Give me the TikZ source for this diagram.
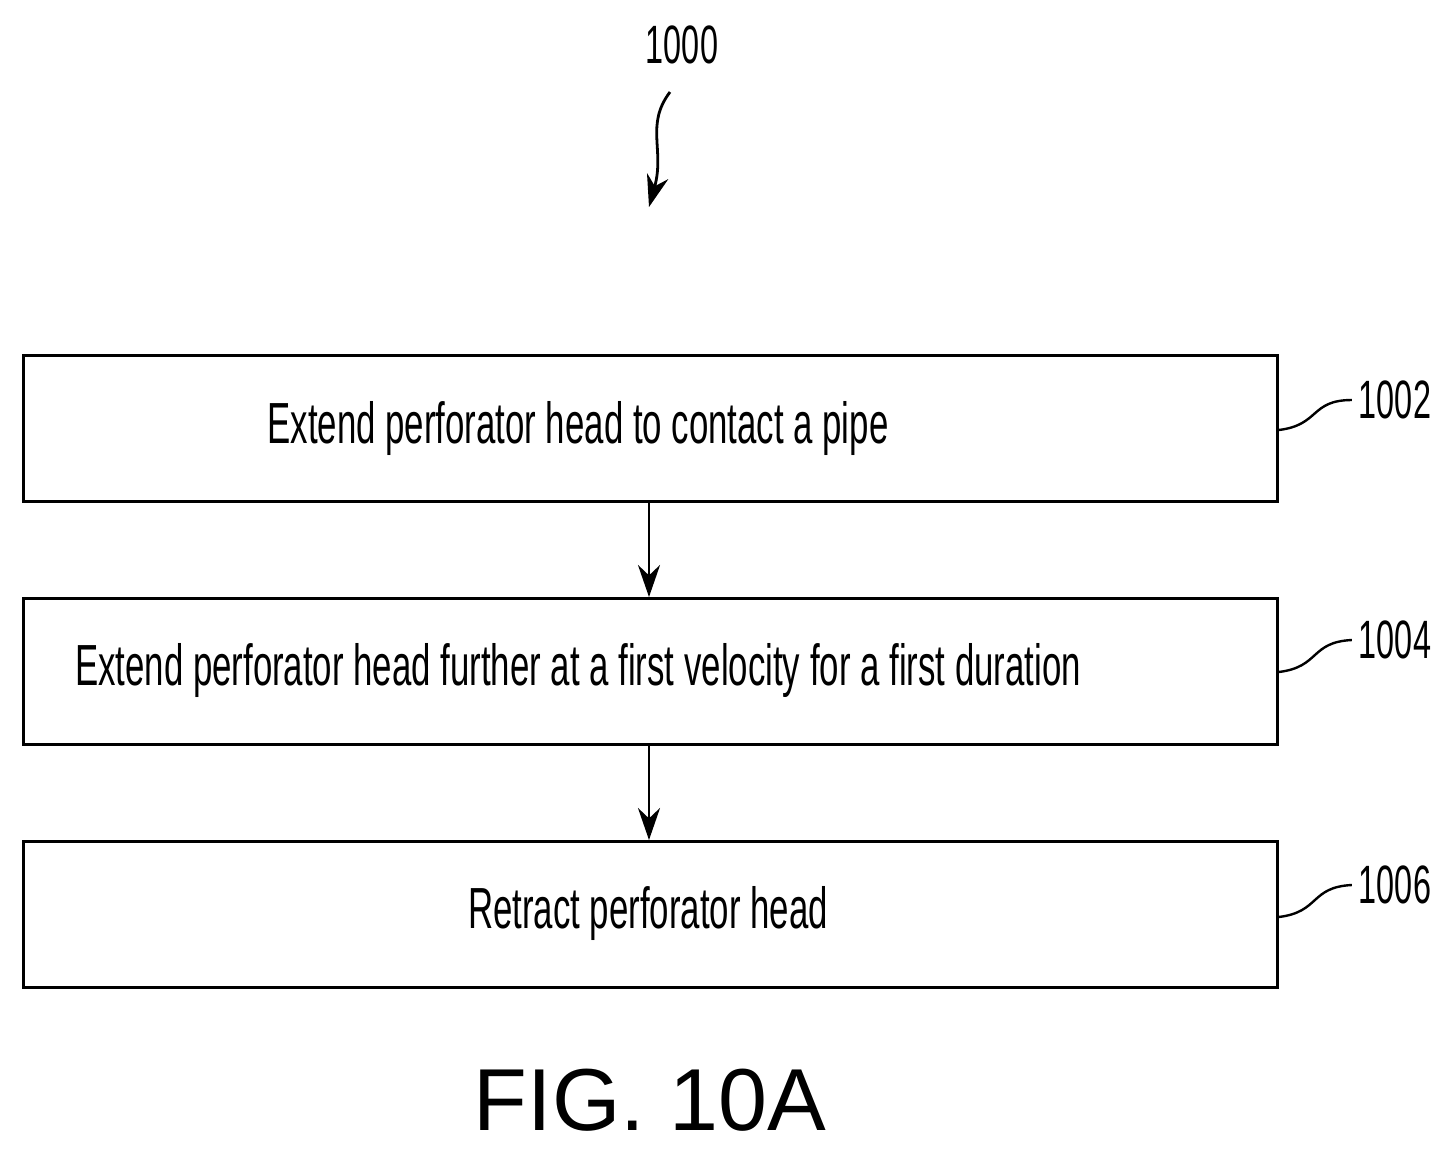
\documentclass[tikz,border=0pt]{standalone}
\usepackage{fontspec}
\setmainfont{Liberation Sans}
\usetikzlibrary{arrows.meta}
\newcommand{\narrowtext}[1]{\scalebox{0.6}[1]{#1}}
\begin{document}
\begin{tikzpicture}[x=0.5pt,y=-0.5pt,
	stepbox/.style={draw,line width=1.4pt,minimum width=627pt,minimum height=73pt,anchor=north west,inner sep=0pt},
	steptext/.style={font=\fontsize{29}{34}\selectfont},
	ref/.style={font=\fontsize{27}{32}\selectfont},
	flow/.style={line width=1.4pt,-{Stealth[length=16pt,width=11pt]}}]
	\useasboundingbox (0,0) rectangle (1453,1153);
	% boxes
	\node[stepbox] (s1) at (22,354) {};
	\node[stepbox] (s2) at (22,597) {};
	\node[stepbox] (s3) at (22,840) {};
	\node[steptext] (t1) at (578,428) {\narrowtext{Extend perforator head to contact a pipe}};
	\node[steptext] (t2) at (578,670) {\narrowtext{Extend perforator head further at a first velocity for a first duration}};
	\node[steptext] (t3) at (648,913) {\narrowtext{Retract perforator head}};
	% arrows
	\draw[flow] (s1.south -| 649,0) -- (s2.north -| 649,0);
	\draw[flow] (s2.south -| 649,0) -- (s3.north -| 649,0);
	% reference numerals
	\node[ref] (r0) at (682,45) {\narrowtext{1000}};
	\node[ref] (r1) at (1395,400) {\narrowtext{1002}};
	\node[ref] (r2) at (1395,640) {\narrowtext{1004}};
	\node[ref] (r3) at (1395,885) {\narrowtext{1006}};
	\coordinate (c0) at (649,207);
	\draw[flow] (670,92) .. controls (645,125) and (665,150) .. (c0);
	\draw[line width=1.2pt] (s1.east |- 0,430) .. controls (1320,425) and (1310,400) .. (r1.west);
	\draw[line width=1.2pt] (s2.east |- 0,672) .. controls (1320,667) and (1310,642) .. (r2.west);
	\draw[line width=1.2pt] (s3.east |- 0,917) .. controls (1320,912) and (1310,887) .. (r3.west);
	\node[font=\fontsize{44}{50}\selectfont] (fig) at (650,1100) {FIG. 10A};
\end{tikzpicture}
\end{document}
